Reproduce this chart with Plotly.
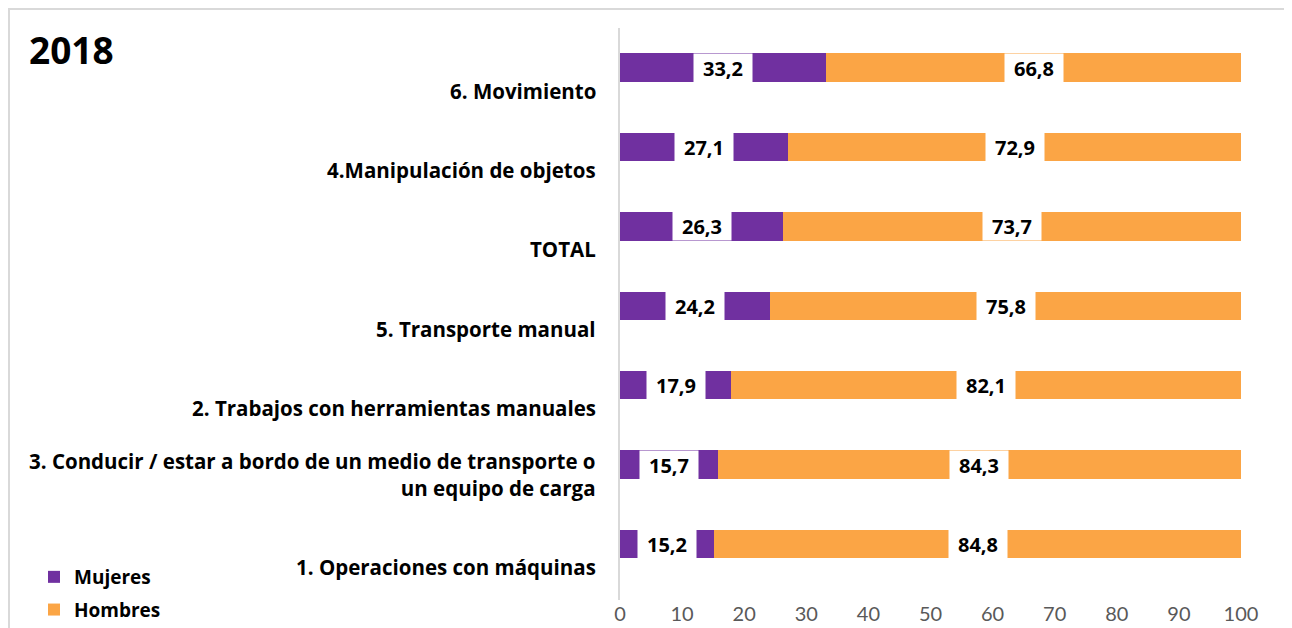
import plotly.graph_objects as go

# ---- data ----
categories = [
    "1. Operaciones con máquinas",
    "3. Conducir / estar a bordo de un medio de transporte o<br>un equipo de carga",
    "2. Trabajos con herramientas manuales",
    "5. Transporte manual",
    "TOTAL",
    "4.Manipulación de objetos",
    "6. Movimiento",
]
mujeres = [15.2, 15.7, 17.9, 24.2, 26.3, 27.1, 33.2]
hombres = [84.8, 84.3, 82.1, 75.8, 73.7, 72.9, 66.8]
x_ticks = [0, 10, 20, 30, 40, 50, 60, 70, 80, 90, 100]
title_text = "2018"

PURPLE = "#7030A0"
ORANGE = "#FBA545"
FONT = "Open Sans"
TICKFONT = "Lato"

W, H = 1292, 628
OFF = 8  # page body margin
# plot area in page px, converted to figure px
PL, PR, PT, PB = 620 - OFF, 1241 - OFF, 28 - OFF, 600 - OFF


def px_x(p):
    return (p - OFF - PL) / (PR - PL)


def px_y(p):
    return (PB - (p - OFF)) / (PB - PT)


fig = go.Figure()
fig.add_trace(go.Bar(y=list(range(len(categories))), x=mujeres, name="Mujeres",
                     orientation="h", legendgroup="m",
                     marker=dict(color=PURPLE, line=dict(width=0)),
                     hoverinfo="skip"))
fig.add_trace(go.Bar(y=list(range(len(categories))), x=hombres, name="Hombres",
                     orientation="h", legendgroup="h",
                     marker=dict(color=ORANGE, line=dict(width=0)),
                     hoverinfo="skip"))

annotations = []
# data labels with white boxes
for i, (m, h) in enumerate(zip(mujeres, hombres)):
    for xc, v in ((m / 2, m), (m + h / 2, h)):
        annotations.append(dict(
            x=xc, y=i, xref="x", yref="y", text=f"{v:.1f}".replace(".", ","),
            showarrow=False, bgcolor="white", width=58, height=28, borderpad=0,
            font=dict(family=FONT, size=20, color="black", weight="bold"),
            xanchor="center", yanchor="middle"))
# category labels
for i, c in enumerate(categories):
    annotations.append(dict(
        x=px_x(598), y=i, xref="paper", yref="y", text=c, showarrow=False,
        xanchor="right", yanchor="bottom", yshift=-39, align="right",
        font=dict(family=FONT, size=20.5, color="black", weight="bold")))
# title
annotations.append(dict(
    x=px_x(27), y=px_y(50), xref="paper", yref="paper", text=title_text,
    showarrow=False, xanchor="left", yanchor="middle",
    font=dict(family=FONT, size=37, color="black", weight="bold")))

fig.update_layout(
    width=W, height=H,
    margin=dict(l=PL, r=W - PR, t=PT, b=H - PB, pad=0, autoexpand=False),
    barmode="stack", bargap=0.64,
    plot_bgcolor="white", paper_bgcolor="white",
    showlegend=True,
    legend=dict(x=px_x(34), y=px_y(558), xanchor="left", yanchor="top",
                traceorder="grouped", bgcolor="rgba(0,0,0,0)",
                font=dict(family=FONT, size=19, color="black", weight="bold"),
                itemwidth=30, tracegroupgap=5),
    xaxis=dict(range=[0, 100], tickvals=x_ticks, showgrid=False, zeroline=False,
               showline=False, ticks="",
               tickfont=dict(family=TICKFONT, size=20, color="#595959")),
    yaxis=dict(range=[-0.706, 6.5], showticklabels=False, showgrid=False,
               zeroline=False, showline=True, linecolor="#D9D9D9", linewidth=2,
               ticks=""),
    annotations=annotations,
    shapes=[dict(type="rect", xref="paper", yref="paper",
                 x0=px_x(9), x1=px_x(1286), y0=px_y(660), y1=px_y(9),
                 line=dict(color="#D9D9D9", width=2), layer="below")],
)

fig.write_html("out.html")
